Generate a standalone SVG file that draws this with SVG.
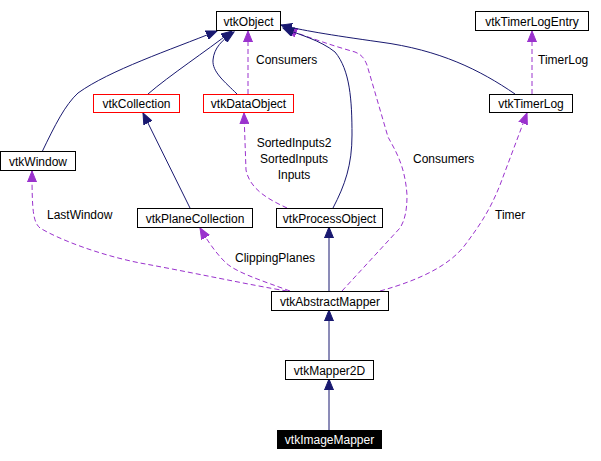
<svg xmlns="http://www.w3.org/2000/svg" width="601" height="461" viewBox="0 0 601 461">
<style>
.box{fill:#fff;stroke:#000;stroke-width:1}
.red{stroke:#ff0000}
.blk{fill:#000;stroke:#000}
text{font-family:"Liberation Sans",Arial,sans-serif;font-size:12px;fill:#000;text-anchor:middle}
.wt{fill:#fff}
.lbl{text-anchor:start}
.inh{fill:none;stroke:#191970;stroke-width:1}
.use{fill:none;stroke:#9a32cd;stroke-width:1;stroke-dasharray:5,3}
</style>
<defs>
<marker id="an" markerUnits="userSpaceOnUse" markerWidth="12" markerHeight="10" refX="11" refY="4.5" orient="auto" viewBox="0 0 12 9">
<path d="M0,0 L11,4.5 L0,9 z" fill="#191970" stroke="#191970"/>
</marker>
<marker id="ap" markerUnits="userSpaceOnUse" markerWidth="12" markerHeight="10" refX="11" refY="4.5" orient="auto" viewBox="0 0 12 9">
<path d="M0,0 L11,4.5 L0,9 z" fill="#9a32cd" stroke="#9a32cd"/>
</marker>
</defs>
<g id="connectors">
<path class="use" marker-end="url(#ap)" d="M342,291 L400,228 C405,220 407,210 407,195 C405,165 395,150 388,137 L367,65 C364,58 362,55 355,52 C330,45 305,36 286,29"/>
<path class="inh" marker-end="url(#an)" d="M42,152 C55,125 65,105 78,93 C110,70 170,50 217,31"/>
<path class="inh" marker-end="url(#an)" d="M148,94 C170,75 205,52 232,31"/>
<path class="inh" marker-end="url(#an)" d="M237,94 C225,82 212,72 213,60 C214,48 222,40 234,32"/>
<path class="use" marker-end="url(#ap)" d="M248,94 L248,31"/>
<path class="inh" marker-end="url(#an)" d="M515,94 C480,70 440,50 380,42 C330,35 300,30 281,25"/>
<path class="inh" marker-end="url(#an)" d="M333,208 C345,185 352,165 352,135 C352,100 350,70 335,52 C320,40 300,35 283,28"/>
<path class="use" marker-end="url(#ap)" d="M532,94 L532,31"/>
<path class="use" marker-end="url(#ap)" d="M380,291 C420,280 450,265 465,245 C480,225 490,210 500,185 L527,113"/>
<path class="use" marker-end="url(#ap)" d="M287,291 C250,285 190,272 140,263 C100,255 60,240 40,228 C33,222 32,210 32,171"/>
<path class="use" marker-end="url(#ap)" d="M290,291 C260,280 235,272 225,262 C215,252 207,240 200,228"/>
<path class="use" marker-end="url(#ap)" d="M287,208 C270,200 250,190 246,170 L244,113"/>
<path class="inh" marker-end="url(#an)" d="M190,208 L143,113"/>
<path class="inh" marker-end="url(#an)" d="M329,291 L329,227"/>
<path class="inh" marker-end="url(#an)" d="M329,360 L329,310"/>
<path class="inh" marker-end="url(#an)" d="M329,430 L329,379"/>
<text class="lbl" x="256" y="64">Consumers</text>
<text class="lbl" x="538" y="64">TimerLog</text>
<text x="294" y="147">SortedInputs2</text>
<text x="294" y="163">SortedInputs</text>
<text x="294" y="179">Inputs</text>
<text class="lbl" x="413" y="163">Consumers</text>
<text class="lbl" x="47" y="219">LastWindow</text>
<text class="lbl" x="495" y="219">Timer</text>
<text class="lbl" x="235" y="262">ClippingPlanes</text>
</g>
<g id="vtkObject"><rect class="box" x="216.5" y="11.5" width="64" height="19"/><text x="248.5" y="25.5">vtkObject</text></g>
<g id="vtkTimerLogEntry"><rect class="box" x="475.5" y="11.5" width="113" height="19"/><text x="532" y="25.5">vtkTimerLogEntry</text></g>
<g id="vtkCollection"><rect class="box red" x="93.5" y="94.5" width="86" height="18"/><text x="136.5" y="107.5">vtkCollection</text></g>
<g id="vtkDataObject"><rect class="box red" x="203.5" y="94.5" width="90" height="18"/><text x="248.5" y="107.5">vtkDataObject</text></g>
<g id="vtkTimerLog"><rect class="box" x="489.5" y="94.5" width="83" height="18"/><text x="531" y="107.5">vtkTimerLog</text></g>
<g id="vtkWindow"><rect class="box" x="0.5" y="151.5" width="75" height="19"/><text x="38" y="165.5">vtkWindow</text></g>
<g id="vtkPlaneCollection"><rect class="box" x="137.5" y="208.5" width="115" height="19"/><text x="195" y="222.5">vtkPlaneCollection</text></g>
<g id="vtkProcessObject"><rect class="box" x="276.5" y="208.5" width="106" height="19"/><text x="329.5" y="222.5">vtkProcessObject</text></g>
<g id="vtkAbstractMapper"><rect class="box" x="271.5" y="291.5" width="117" height="19"/><text x="330" y="305.5">vtkAbstractMapper</text></g>
<g id="vtkMapper2D"><rect class="box" x="285.5" y="360.5" width="88" height="19"/><text x="329.5" y="374.5">vtkMapper2D</text></g>
<g id="vtkImageMapper"><rect class="blk" x="277.5" y="430.5" width="104" height="18"/><text class="wt" x="329.5" y="443.5">vtkImageMapper</text></g>
</svg>
